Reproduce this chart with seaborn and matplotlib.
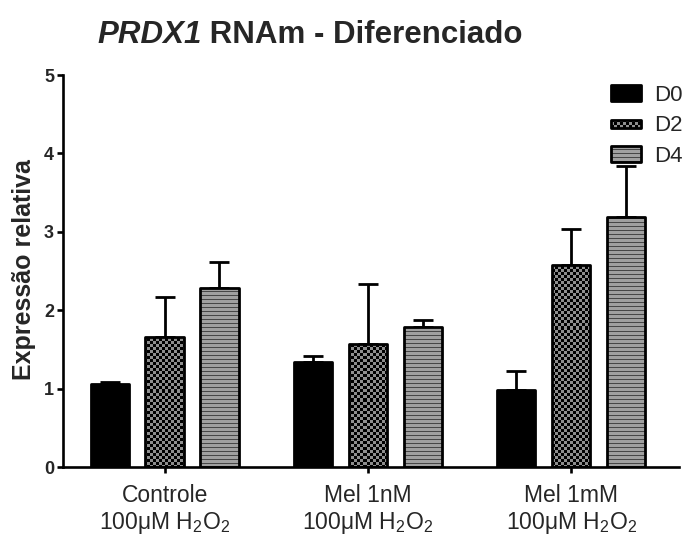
import numpy as np
import pandas as pd
import matplotlib
matplotlib.use("Agg")
import matplotlib.pyplot as plt
import seaborn as sns
from matplotlib.patches import Rectangle, Patch
from matplotlib.legend_handler import HandlerBase

# --- data -------------------------------------------------------------
groups = ["Controle\n100μM H$_2$O$_2$",
          "Mel 1nM\n100μM H$_2$O$_2$",
          "Mel 1mM\n100μM H$_2$O$_2$"]
days = ["D0", "D2", "D4"]
mean_d0 = [1.06, 1.34, 0.98]
mean_d2 = [1.66, 1.57, 2.58]
mean_d4 = [2.28, 1.78, 3.19]
err_d0 = [0.02, 0.08, 0.25]
err_d2 = [0.51, 0.76, 0.46]
err_d4 = [0.33, 0.10, 0.65]
yticks = [0, 1, 2, 3, 4, 5]
ytick_labels = ["0", "1", "2", "3", "4", "5"]

means = {"D0": mean_d0, "D2": mean_d2, "D4": mean_d4}
errs = {"D0": err_d0, "D2": err_d2, "D4": err_d4}
df = pd.DataFrame([(g, d, means[d][i]) for d in days for i, g in enumerate(groups)],
                  columns=["grupo", "dia", "valor"])

# --- style ------------------------------------------------------------
sns.set_style("ticks")
plt.rcParams["font.family"] = ["Liberation Sans", "DejaVu Sans"]
plt.rcParams["mathtext.fontset"] = "custom"
plt.rcParams["mathtext.rm"] = "Liberation Sans"
plt.rcParams["mathtext.it"] = "Liberation Sans:italic"
plt.rcParams["mathtext.bf"] = "Liberation Sans:bold"

fig = plt.figure(figsize=(6.83, 5.36), dpi=100)
ax = fig.add_axes([0.0922, 0.1287, 0.9018, 0.7313])

xlim = (-0.5, 2.53)
ylim = (0, 5)

sns.barplot(data=df, x="grupo", y="valor", hue="dia", order=groups, hue_order=days,
            palette=["black", "black", "black"], width=0.81, gap=0.3,
            errorbar=None, edgecolor="black", linewidth=2.0, legend=False, ax=ax)

# textures: checkerboard (D2) and horizontal stripes (D4)
W, H = 616, 392
rr, cc = np.mgrid[0:H, 0:W]
black = np.array([0.0, 0.0, 0.0])
mid = np.array([0.56, 0.56, 0.56])
checker = np.where((((rr // 3) + (cc // 3)) % 2 == 1)[..., None], mid, black)
light = np.array([0.63, 0.63, 0.63])
dark = np.array([0.28, 0.28, 0.28])
stripes = np.where((rr % 4 == 0)[..., None], dark, light)
textures = {"D2": checker, "D4": stripes}

for d, container in zip(days, ax.containers):
    for i, bar in enumerate(container.patches):
        bar.set_joinstyle("round")
        bar.set_zorder(2)
        if d in textures:
            bar.set_facecolor("none")
            im = ax.imshow(textures[d], extent=(xlim[0], xlim[1], ylim[0], ylim[1]),
                           aspect="auto", interpolation="nearest", zorder=1.5)
            im.set_clip_path(bar)
        cx = bar.get_x() + bar.get_width() / 2
        ax.errorbar(cx, means[d][i], yerr=[[0], [errs[d][i]]], fmt="none",
                    ecolor="black", elinewidth=2.0, capsize=7.5, capthick=2.0, zorder=1)

ax.set_xlim(*xlim)
ax.set_ylim(*ylim)
ax.set_yticks(yticks)
ax.set_yticklabels(ytick_labels, fontweight="bold", fontsize=13)
ax.tick_params(axis="y", length=4.5, width=1.9, pad=2, color="black")
ax.tick_params(axis="x", length=4.5, width=1.9, pad=8, labelsize=16.5, color="black")
for lbl in ax.get_xticklabels():
    lbl.set_linespacing(1.15)
sns.despine(ax=ax)
for s in ("left", "bottom"):
    ax.spines[s].set_linewidth(1.9)
    ax.spines[s].set_color("black")
ax.set_xlabel("")
ax.set_ylabel("Expressão relativa", fontsize=18, fontweight="bold")
ax.yaxis.set_label_coords(-0.044, 0.503)

# title: italic gene name followed by upright text
t1 = fig.text(97 / 683, 1 - 43 / 536, "PRDX1", fontsize=22.5, fontweight="bold",
              fontstyle="italic", ha="left", va="baseline")
ax.annotate(" RNAm - Diferenciado", xy=(1, 0), xycoords=t1, ha="left", va="bottom",
            fontsize=22.5, fontweight="bold", annotation_clip=False)


# legend handlers
class SwatchHandler(HandlerBase):
    def __init__(self, kind, hfrac=1.0):
        super().__init__()
        self.kind = kind
        self.hfrac = hfrac

    def create_artists(self, legend, orig_handle, xdescent, ydescent, width,
                       height, fontsize, trans):
        h = height * self.hfrac
        x0 = -xdescent
        y0 = -ydescent + (height - h) / 2
        arts = []
        if self.kind == "solid":
            face = "black"
        elif self.kind == "checker":
            face = "none"
            cell = 2.16  # points, ~3 px
            arts.append(Rectangle((x0, y0), width, h, facecolor="black",
                                  edgecolor="none", transform=trans))
            nx = int(np.ceil(width / cell))
            ny = int(np.ceil(h / cell))
            for j in range(ny):
                for k in range(nx):
                    if (j + k) % 2 == 1:
                        arts.append(Rectangle((x0 + k * cell, y0 + j * cell),
                                              min(cell, width - k * cell),
                                              min(cell, h - j * cell),
                                              facecolor=(0.56, 0.56, 0.56),
                                              edgecolor="none", transform=trans))
        else:
            face = "none"
            period = 2.88  # points, ~4 px
            arts.append(Rectangle((x0, y0), width, h, facecolor=(0.63, 0.63, 0.63),
                                  edgecolor="none", transform=trans))
            n = int(h / period)
            for j in range(n + 1):
                arts.append(Rectangle((x0, y0 + j * period), width, 0.72,
                                      facecolor=(0.28, 0.28, 0.28), edgecolor="none",
                                      transform=trans))
        arts.append(Rectangle((x0, y0), width, h, facecolor=face, edgecolor="black",
                              linewidth=2.0, joinstyle="round", transform=trans))
        return arts


handles = [Patch(label=d) for d in days]
kinds = [("solid", 1.0), ("checker", 0.5), ("stripes", 1.0)]
hmap = {hd: SwatchHandler(k, f) for hd, (k, f) in zip(handles, kinds)}
ax.legend(handles=handles, handler_map=hmap, loc="upper left",
          bbox_to_anchor=(611 / 683, 1 - 85 / 536), bbox_transform=fig.transFigure,
          frameon=False, borderpad=0, borderaxespad=0, handlelength=1.35,
          handleheight=0.72, handletextpad=0.6, labelspacing=0.42, fontsize=16)

fig.savefig("out.png", dpi=100)
